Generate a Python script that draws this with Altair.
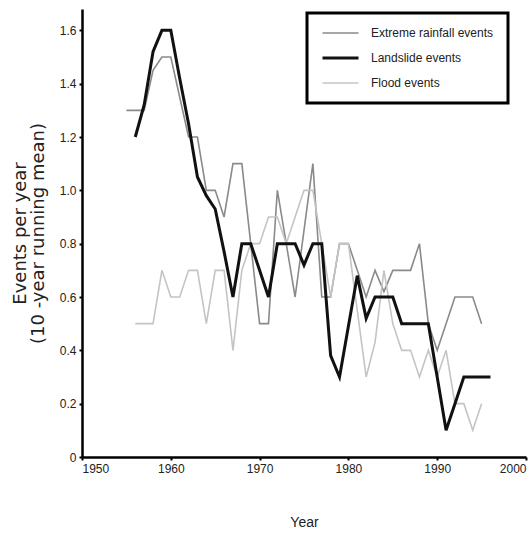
import altair as alt
import pandas as pd

# 10-year running means of events per year
landslide_years = list(range(1956, 1997))
landslide = [1.2, 1.32, 1.52, 1.6, 1.6, 1.42, 1.25, 1.05, 0.98, 0.93,
             0.77, 0.6, 0.8, 0.8, 0.7, 0.6, 0.8, 0.8, 0.8, 0.72,
             0.8, 0.8, 0.38, 0.3, 0.49, 0.68, 0.52, 0.6, 0.6, 0.6,
             0.5, 0.5, 0.5, 0.5, 0.3, 0.1, 0.2, 0.3, 0.3, 0.3, 0.3]

rainfall_years = list(range(1955, 1996))
rainfall = [1.3, 1.3, 1.3, 1.45, 1.5, 1.5, 1.35, 1.2, 1.2, 1.0,
            1.0, 0.9, 1.1, 1.1, 0.8, 0.5, 0.5, 1.0, 0.8, 0.6,
            0.85, 1.1, 0.6, 0.6, 0.8, 0.8, 0.7, 0.6, 0.7, 0.62,
            0.7, 0.7, 0.7, 0.8, 0.5, 0.4, 0.5, 0.6, 0.6, 0.6, 0.5]

flood_years = list(range(1956, 1996))
flood = [0.5, 0.5, 0.5, 0.7, 0.6, 0.6, 0.7, 0.7, 0.5, 0.7,
         0.7, 0.4, 0.7, 0.8, 0.8, 0.9, 0.9, 0.8, 0.9, 1.0,
         1.0, 0.8, 0.6, 0.8, 0.8, 0.55, 0.3, 0.43, 0.7, 0.5,
         0.4, 0.4, 0.3, 0.4, 0.3, 0.4, 0.2, 0.2, 0.1, 0.2]

series_names = ["Extreme rainfall events", "Landslide events", "Flood events"]
series_colors = ["#8a8a8a", "#111111", "#c4c4c4"]
series_widths = [1.6, 3.0, 1.6]

frames = []
for name, yrs, vals in [(series_names[0], rainfall_years, rainfall),
                        (series_names[1], landslide_years, landslide),
                        (series_names[2], flood_years, flood)]:
    frames.append(pd.DataFrame({"year": yrs, "value": vals, "series": name}))
df = pd.concat(frames, ignore_index=True)

FONT = "Liberation Sans"

x_enc = alt.X("year:Q",
              scale=alt.Scale(domain=[1950, 2000], nice=False, zero=False),
              axis=alt.Axis(values=[1950, 1960, 1970, 1980, 1990, 2000],
                            format="d", title="Year", titlePadding=41))
y_enc = alt.Y("value:Q",
              scale=alt.Scale(domain=[0, 1.68], nice=False),
              axis=alt.Axis(values=[0, 0.2, 0.4, 0.6, 0.8, 1.0, 1.2, 1.4, 1.6],
                            labelExpr="datum.value == 0 ? '0' : format(datum.value, '.1f')",
                            title=["Events per year", "(10 -year running mean)"],
                            titleFont="DejaVu Sans", titleFontSize=18,
                            titleLineHeight=18, titlePadding=12))
color_enc = alt.Color("series:N",
                      scale=alt.Scale(domain=series_names, range=series_colors),
                      legend=alt.Legend(title=None, orient="none",
                                        legendX=225, legendY=4,
                                        symbolType="stroke", symbolSize=1296,
                                        symbolStrokeWidth=2, clipHeight=12,
                                        rowPadding=13, symbolOffset=0,
                                        labelOffset=11, padding=14,
                                        strokeColor="black", fillColor="white"))
width_enc = alt.StrokeWidth("series:N",
                            scale=alt.Scale(type="ordinal", domain=series_names,
                                            range=series_widths),
                            legend=None)

base = alt.Chart(df).encode(x=x_enc, y=y_enc, color=color_enc, strokeWidth=width_enc)

grays = base.transform_filter(alt.datum.series != "Landslide events").mark_line()
black = base.transform_filter(alt.datum.series == "Landslide events").mark_line(strokeJoin="miter")

chart = alt.layer(grays, black).properties(
    width=444, height=448,
    padding={"left": 82, "top": 9, "right": 2, "bottom": 76},
    autosize=alt.AutoSizeParams(type="none"),
).configure_view(stroke=None).configure_axis(
    grid=False,
    domainColor="black", domainWidth=2.5,
    tickColor="black", tickSize=3, tickWidth=2,
    labelFont=FONT, labelFontSize=12, labelColor="#222222", labelPadding=3,
    titleFont=FONT, titleFontSize=14, titleFontWeight="normal", titleColor="#222222",
).configure_legend(
    labelFont=FONT, labelFontSize=12, labelColor="#222222", strokeWidth=3,
)

chart.save("out.html", embed_options={"renderer": "svg", "actions": False})
